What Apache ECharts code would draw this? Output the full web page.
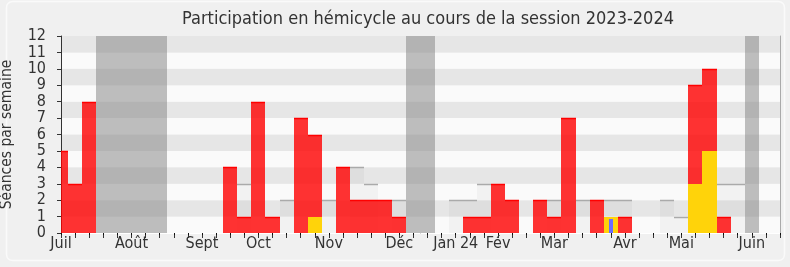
<!DOCTYPE html>
<html>
<head>
<meta charset="utf-8">
<script src="https://cdn.jsdelivr.net/npm/echarts@6/dist/echarts.min.js"></script>
<style>
html,body{margin:0;padding:0;background:#f0f0f0;}
#c{width:790px;height:267px;}
</style>
</head>
<body>
<div id="c"></div>
<script>
// ---- data ----
const weeks = ['S27','S28','S29','S30','S31','S32','S33','S34','S35','S36','S37','S38','S39','S40','S41','S42','S43','S44','S45','S46','S47','S48','S49','S50','S51','S52','S01','S02','S03','S04','S05','S06','S07','S08','S09','S10','S11','S12','S13','S14','S15','S16','S17','S18','S19','S20','S21','S22','S23','S24','S25','S26'];
const monthIdx = [0, 5, 10, 14, 19, 24, 28, 31, 35, 40, 44, 49];
const monthNames = ['Juil', 'Août', 'Sept', 'Oct', 'Nov', 'Déc', 'Jan 24', 'Fév', 'Mar', 'Avr', 'Mai', 'Juin'];
const presence = [5,3,8,null,null,null,null,null,null,null,null,null,4,1,8,1,null,7,6,null,4,2,2,2,1,null,null,null,null,1,1,3,2,null,2,1,7,null,2,null,1,null,null,null,null,9,10,1,null,null,null,null];
const interventions = [null,null,null,null,null,null,null,null,null,null,null,null,null,null,null,null,null,null,1,null,null,null,null,null,null,null,null,null,null,null,null,null,null,null,null,null,null,null,null,1,null,null,null,null,null,3,5,null,null,null,null,null];
const questions = [null,null,null,null,null,null,null,null,null,null,null,null,null,null,null,null,null,null,null,null,null,null,null,null,null,null,null,null,null,null,null,null,null,null,null,null,null,null,null,0.83,null,null,null,null,null,null,null,null,null,null,null,null];
const mediane = [null,null,null,null,null,null,null,null,null,null,null,null,null,3,null,null,2,null,null,2,null,4,3,null,2,null,null,null,2,2,3,null,null,null,null,2,null,2,null,2,2,null,null,2,1,null,null,3,3,null,null,null];
const vacances = [null,null,null,12,12,12,12,12,null,null,null,null,null,null,null,null,null,null,null,null,null,null,null,null,null,12,12,null,null,null,null,null,null,null,null,null,null,null,null,null,null,null,null,null,null,null,null,null,null,12,null,null];

function toPairs(arr){
  const out = [];
  arr.forEach((v,i)=>{ if(v!==null && v!==undefined) out.push([i, v]); });
  return out;
}

function makeRender(fill, lineColor, fixedWidth){
  return function(params, api){
    const i = api.value(0), v = api.value(1);
    const origin = api.coord([0, 0]);
    const base = api.coord([i, 0]);
    const top = api.coord([i, v]);
    const band = api.size([1, 0])[0];
    const cs = params.coordSys;
    let x0, x1;
    if(fixedWidth){
      x0 = Math.round(base[0] - fixedWidth/2); x1 = x0 + fixedWidth;
    } else {
      x0 = Math.round(origin[0] + (i - 0.5) * band);
      x1 = Math.round(origin[0] + (i + 0.5) * band);
    }
    x0 = Math.max(x0, Math.round(cs.x)); x1 = Math.min(x1, Math.round(cs.x + cs.width));
    const yTop = Math.round(top[1]), yBase = Math.round(base[1]);
    if(x1 <= x0 || yBase <= yTop) return;
    const r = {x: x0, y: yTop, width: x1 - x0, height: yBase - yTop};
    const children = [{type:'rect', shape:r, style:{fill:fill}}];
    if(lineColor){
      children.push({type:'line', shape:{x1:x0, y1:yTop + 0.5, x2:x1, y2:yTop + 0.5},
        style:{stroke:lineColor, lineWidth:1.5}});
    }
    return {type:'group', children:children};
  };
}

const FONT = '"DejaVu Sans Condensed", "DejaVu Sans", sans-serif';
const chart = echarts.init(document.getElementById('c'));
chart.setOption({
  backgroundColor: '#f0f0f0',
  animation: false,
  title: {
    text: 'Participation en hémicycle au cours de la session 2023-2024',
    left: 423, top: 5, textAlign: 'center',
    textStyle: {fontFamily: FONT, fontSize: 18, fontWeight: 'normal', color: '#333'}
  },
  graphic: [{
    type: 'rect', z: -10, silent: true,
    shape: {x: 6.5, y: 1.5, width: 778, height: 259, r: 6},
    style: {fill: 'none', stroke: '#fafafa', lineWidth: 1.5}
  }],
  grid: {left: 61, right: 10, top: 36, bottom: 34, containLabel: false, outerBoundsMode: 'none'},
  xAxis: [{
    type: 'category', data: weeks, boundaryGap: false, position: 'bottom',
    axisLine: {lineStyle: {color: '#333', width: 1}},
    axisTick: {interval: 0, length: 5, lineStyle: {color: '#333'}},
    axisLabel: {
      interval: (idx) => monthIdx.indexOf(idx) >= 0,
      formatter: (val, idx) => { const k = monthIdx.indexOf(idx); return k >= 0 ? monthNames[k] : ''; },
      fontFamily: FONT, fontSize: 16, color: '#333', margin: 3
    },
    splitLine: {show: false}
  }, {
    type: 'category', data: weeks, boundaryGap: false, position: 'top',
    axisLine: {show: true, lineStyle: {color: '#ffffff', width: 1}},
    axisTick: {interval: 0, inside: true, length: 2, lineStyle: {color: '#111'}},
    axisLabel: {show: false},
    splitLine: {show: false}
  }],
  yAxis: [{
    type: 'value', min: 0, max: 12, interval: 1,
    name: 'Séances par semaine', nameLocation: 'middle', nameGap: 46, nameRotate: 90,
    nameTextStyle: {fontFamily: FONT, fontSize: 15.5, color: '#333'},
    axisLine: {show: true, lineStyle: {color: '#333'}},
    axisTick: {show: true, length: 4, lineStyle: {color: '#333'}},
    axisLabel: {fontFamily: FONT, fontSize: 16, color: '#333', margin: 15,
                showMinLabel: true, showMaxLabel: true, hideOverlap: false},
    splitLine: {show: false},
    splitArea: {show: true, areaStyle: {color: ['#fafafa', '#e6e6e6']}}
  }, {
    type: 'value', min: 0, max: 12, interval: 1, position: 'right',
    axisLine: {show: true, lineStyle: {color: '#aaaaaa'}},
    axisTick: {show: false}, axisLabel: {show: false},
    splitLine: {show: false}, splitArea: {show: false}
  }],
  series: [
    {type: 'custom', name: 'Vacances', data: toPairs(vacances), z: 1,
     renderItem: makeRender('rgba(128,128,128,0.5)', null)},
    {type: 'custom', name: 'Médiane', data: toPairs(mediane), z: 2,
     renderItem: makeRender('rgba(0,0,0,0.03)', '#aaaaaa')},
    {type: 'custom', name: 'Présence', data: toPairs(presence), z: 3,
     renderItem: makeRender('rgba(255,0,0,0.8)', '#ff0000')},
    {type: 'custom', name: 'Interventions', data: toPairs(interventions), z: 4,
     renderItem: makeRender('#ffd30a', null)},
    {type: 'custom', name: 'Questions', data: toPairs(questions), z: 5,
     renderItem: makeRender('#6b6bff', null, 4)}
  ]
});
</script>
</body>
</html>
